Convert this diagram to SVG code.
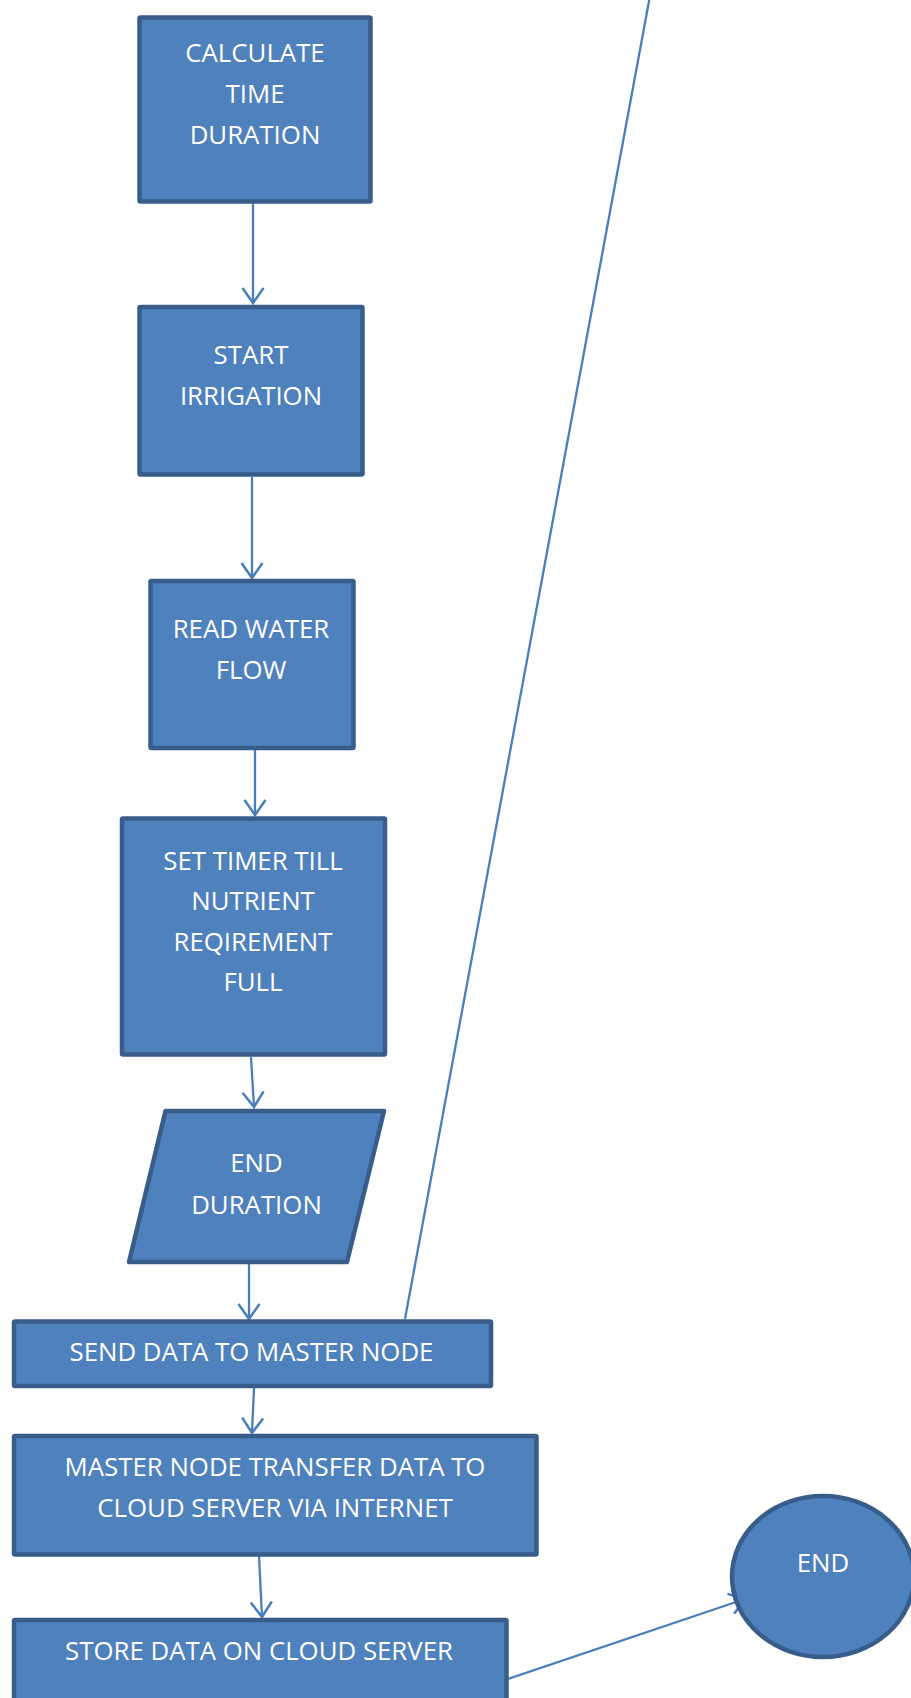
<svg xmlns="http://www.w3.org/2000/svg" width="911" height="1698" viewBox="0 0 911 1698">
  <defs>
    <style>
      .node { fill: #4F81BD; stroke: #385D8A; stroke-width: 4.5; stroke-linejoin: round; }
      .lbl { font-family: "Open Sans", "Liberation Sans", sans-serif; font-size: 25.8px; fill: #FFFFFF; text-anchor: middle; }
      .conn { fill: none; stroke: #4A7EBB; stroke-width: 2.3; }
    </style>
    <marker id="arrow" markerUnits="userSpaceOnUse" markerWidth="20" markerHeight="26" refX="0" refY="0" viewBox="-17 -13 19 26" orient="auto" overflow="visible">
      <path d="M-15,-10.5 L0,0 L-15,10.5" fill="none" stroke="#4A7EBB" stroke-width="2.5"/>
    </marker>
  </defs>
  <rect width="911" height="1698" fill="#FFFFFF"/>

  <g id="connectors">
    <path class="conn" d="M253,203 L253,303" marker-end="url(#arrow)"/>
    <path class="conn" d="M252,477 L252,578" marker-end="url(#arrow)"/>
    <path class="conn" d="M255,750 L255,815" marker-end="url(#arrow)"/>
    <path class="conn" d="M251,1057 L254,1107" marker-end="url(#arrow)"/>
    <path class="conn" d="M249,1264 L249,1319" marker-end="url(#arrow)"/>
    <path class="conn" d="M254,1388 L252,1433" marker-end="url(#arrow)"/>
    <path class="conn" d="M259,1556 L262,1617" marker-end="url(#arrow)"/>
    <path class="conn" d="M508,1679 L745,1599" marker-end="url(#arrow)"/>
    <path class="conn" d="M405,1319 L652,-15"/>
  </g>

  <g id="calc-time">
    <rect class="node" x="139.5" y="17.5" width="231" height="184" rx="1"/>
    <text class="lbl" x="255" y="62">CALCULATE</text>
    <text class="lbl" x="255" y="103">TIME</text>
    <text class="lbl" x="255" y="144">DURATION</text>
  </g>

  <g id="start-irrigation">
    <rect class="node" x="139.5" y="307" width="223" height="167.5" rx="1"/>
    <text class="lbl" x="251" y="364">START</text>
    <text class="lbl" x="251" y="405">IRRIGATION</text>
  </g>

  <g id="read-water-flow">
    <rect class="node" x="150.5" y="581" width="203" height="167" rx="1"/>
    <text class="lbl" x="251" y="638">READ WATER</text>
    <text class="lbl" x="251" y="679">FLOW</text>
  </g>

  <g id="set-timer">
    <rect class="node" x="122" y="818.5" width="263" height="236" rx="1"/>
    <text class="lbl" x="253" y="870">SET TIMER TILL</text>
    <text class="lbl" x="253" y="910">NUTRIENT</text>
    <text class="lbl" x="253" y="951">REQIREMENT</text>
    <text class="lbl" x="253" y="991">FULL</text>
  </g>

  <g id="end-duration">
    <polygon class="node" points="165.5,1111 384,1111 347,1262 129,1262"/>
    <text class="lbl" x="256.5" y="1172">END</text>
    <text class="lbl" x="256.5" y="1214">DURATION</text>
  </g>

  <g id="send-data">
    <rect class="node" x="14" y="1321.5" width="477" height="64.5" rx="1"/>
    <text class="lbl" x="251.5" y="1361">SEND DATA TO MASTER NODE</text>
  </g>

  <g id="master-transfer">
    <rect class="node" x="14" y="1436" width="522.5" height="118.5" rx="1"/>
    <text class="lbl" x="275" y="1476">MASTER NODE TRANSFER DATA TO</text>
    <text class="lbl" x="275" y="1516.5">CLOUD SERVER VIA INTERNET</text>
  </g>

  <g id="store-data">
    <rect class="node" x="14" y="1620" width="492.5" height="90" rx="1"/>
    <text class="lbl" x="259" y="1660">STORE DATA ON CLOUD SERVER</text>
  </g>

  <g id="end">
    <ellipse class="node" cx="823" cy="1576.5" rx="91" ry="80.5"/>
    <text class="lbl" x="823" y="1572">END</text>
  </g>
</svg>
